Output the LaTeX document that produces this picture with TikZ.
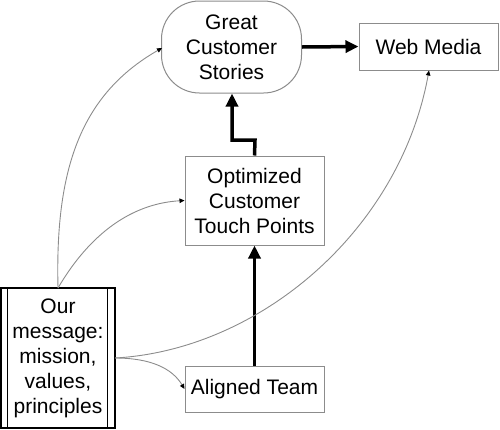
\documentclass[tikz,border=0pt]{standalone}
\usepackage{fontspec}
\setmainfont{Liberation Sans}
\usetikzlibrary{arrows.meta}
\definecolor{edgegray}{HTML}{8C8C8C}
\begin{document}
\begin{tikzpicture}[x=1pt,y=-1pt,
  every node/.style={font=\fontsize{21}{25}\selectfont, align=center, inner sep=0pt},
  graybox/.style={draw=edgegray, line width=1pt, fill=white},
  thickarrow/.style={line width=3.5pt, -{Triangle[length=13pt,width=12pt]}},
  thinarrow/.style={draw=edgegray, line width=0.9pt, -{Triangle[length=5pt,width=4.5pt,fill=black,color=black]}}
]
\useasboundingbox (0,0) rectangle (500,429);
\node[graybox, rounded corners=38pt, minimum width=140pt, minimum height=92pt] (gcs) at (231.5,47) {Great\\Customer\\Stories};
\node[graybox, minimum width=139pt, minimum height=47pt] (wm) at (428.5,46.5) {Web Media};
\node[graybox, minimum width=139pt, minimum height=89pt] (octp) at (254.5,200.5) {Optimized\\Customer\\Touch Points};
\node[graybox, minimum width=139pt, minimum height=46pt] (at) at (254.5,389) {Aligned Team};
\node[draw=black, line width=1.2pt, minimum width=114pt, minimum height=140pt] (om) at (58,358) {Our\\message:\\mission,\\values,\\principles};
\draw[line width=1.2pt] ([xshift=7pt]om.north west) -- ([xshift=7pt]om.south west);
\draw[line width=1.2pt] ([xshift=-8pt]om.north east) -- ([xshift=-8pt]om.south east);
% thick arrows
\draw[thickarrow] (gcs.east) -- (wm.west);
\draw[thickarrow] (at.north) -- (octp.north |- octp.south);
\coordinate (k1) at (255,140);
\coordinate (k2) at (232,140);
\draw[thickarrow] (octp.north) -- (k1) -- (k2) -- (k2 |- gcs.south);
% thin arrows
\coordinate (omtop) at (58,288);
\coordinate (omright) at (115,358);
\coordinate (gcsin) at (162,48);
\coordinate (wmin) at (429,70.5);
\draw[thinarrow] (omtop) .. controls (55,170) and (80,95) .. (gcsin);
\draw[thinarrow] (omtop) .. controls (95,225) and (140,203) .. (octp.west);
\draw[thinarrow] (omright) .. controls (260,350) and (400,230) .. (wmin);
\draw[thinarrow] (omright) .. controls (150,358) and (172,368) .. (at.west);
\end{tikzpicture}
\end{document}
